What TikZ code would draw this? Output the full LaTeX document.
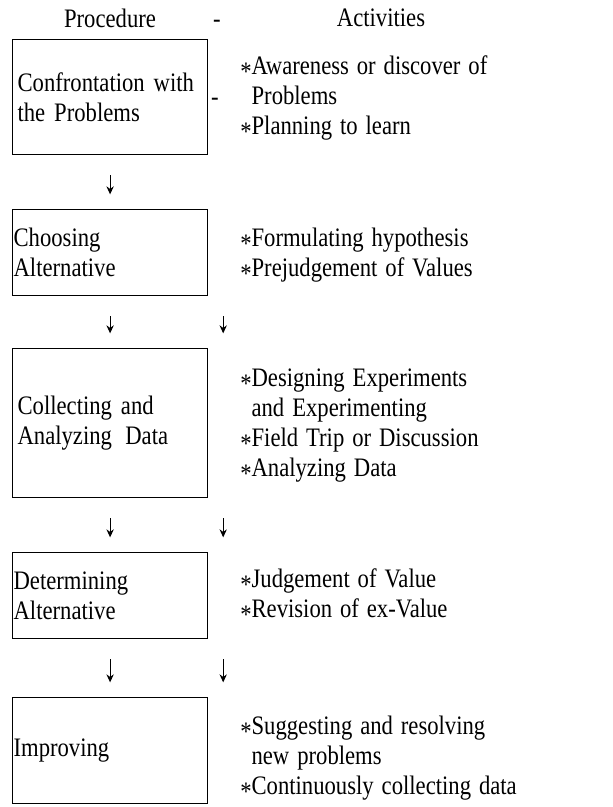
\documentclass[tikz,border=0pt]{standalone}
\usepackage{fontspec}
\setmainfont{Liberation Serif}[FakeStretch=0.85, WordSpace=1.4]
\usetikzlibrary{arrows.meta}

% bullet star sitting at mid height
\newcommand\actstar{\raisebox{-0.5ex}{*}}

\tikzset{
  procbox/.style={draw, line width=0.9pt, anchor=north west, align=left,
    minimum width=146.25pt, text width=138.75pt, inner xsep=3.75pt, inner ysep=0pt},
  tight/.style={text width=144.75pt, inner xsep=0.75pt},
  actlist/.style={anchor=west, align=left, inner sep=0pt},
  flowarrow/.style={-{Stealth[length=6pt,width=5.5pt]}, line width=0.75pt,
    shorten <=15pt, shorten >=11pt}
}

\begin{document}
\begin{tikzpicture}[x=0.75pt, y=-0.75pt, font=\fontsize{20pt}{22.5pt}\selectfont]
\useasboundingbox (0,0) rectangle (613,807);

% column heads
\node (proc) at (110,18) {Procedure};
\node (sep) at (217,24) {-};
\node (acts) at (381,18) {Activities};

% procedure boxes
\node[procbox, minimum height=86.25pt] (conf) at (12,39) {Confrontation with\\the Problems};
\node[procbox, tight, minimum height=64.5pt] (choose) at (12,209) {Choosing\\Alternative};
\node[procbox, minimum height=111.75pt] (collect) at (12,348) {Collecting and\\Analyzing\enspace Data};
\node[procbox, tight, minimum height=64.5pt] (determ) at (12,552) {Determining\\Alternative};
\node[procbox, tight, minimum height=79.5pt] (improve) at (12,697) {Improving};

% activities
\node (sep2) at (215,102) {-};
\node[actlist] (act1) at (240,98) {\actstar Awareness or discover of\\\phantom{\actstar}Problems\\\actstar Planning to learn};
\node[actlist] (act2) at (240,255) {\actstar Formulating hypothesis\\\actstar Prejudgement of Values};
\node[actlist] (act3) at (240,426) {\actstar Designing Experiments\\\phantom{\actstar}and Experimenting\\\actstar Field Trip or Discussion\\\actstar Analyzing Data};
\node[actlist] (act4) at (240,596) {\actstar Judgement of Value\\\actstar Revision of ex-Value};
\node[actlist] (act5) at (240,758) {\actstar Suggesting and resolving\\\phantom{\actstar}new problems\\\actstar Continuously collecting data};

% arrows down the procedure column
\draw[flowarrow] (conf) -- (choose);
\draw[flowarrow] (choose) -- (collect);
\draw[flowarrow] (collect) -- (determ);
\draw[flowarrow] (determ) -- (improve);

% arrows next to the boxes
\draw[flowarrow] ([xshift=11.25pt]choose.south east) -- ([xshift=11.25pt]collect.north east);
\draw[flowarrow] ([xshift=11.25pt]collect.south east) -- ([xshift=11.25pt]determ.north east);
\draw[flowarrow] ([xshift=11.25pt]determ.south east) -- ([xshift=11.25pt]improve.north east);
\end{tikzpicture}
\end{document}
